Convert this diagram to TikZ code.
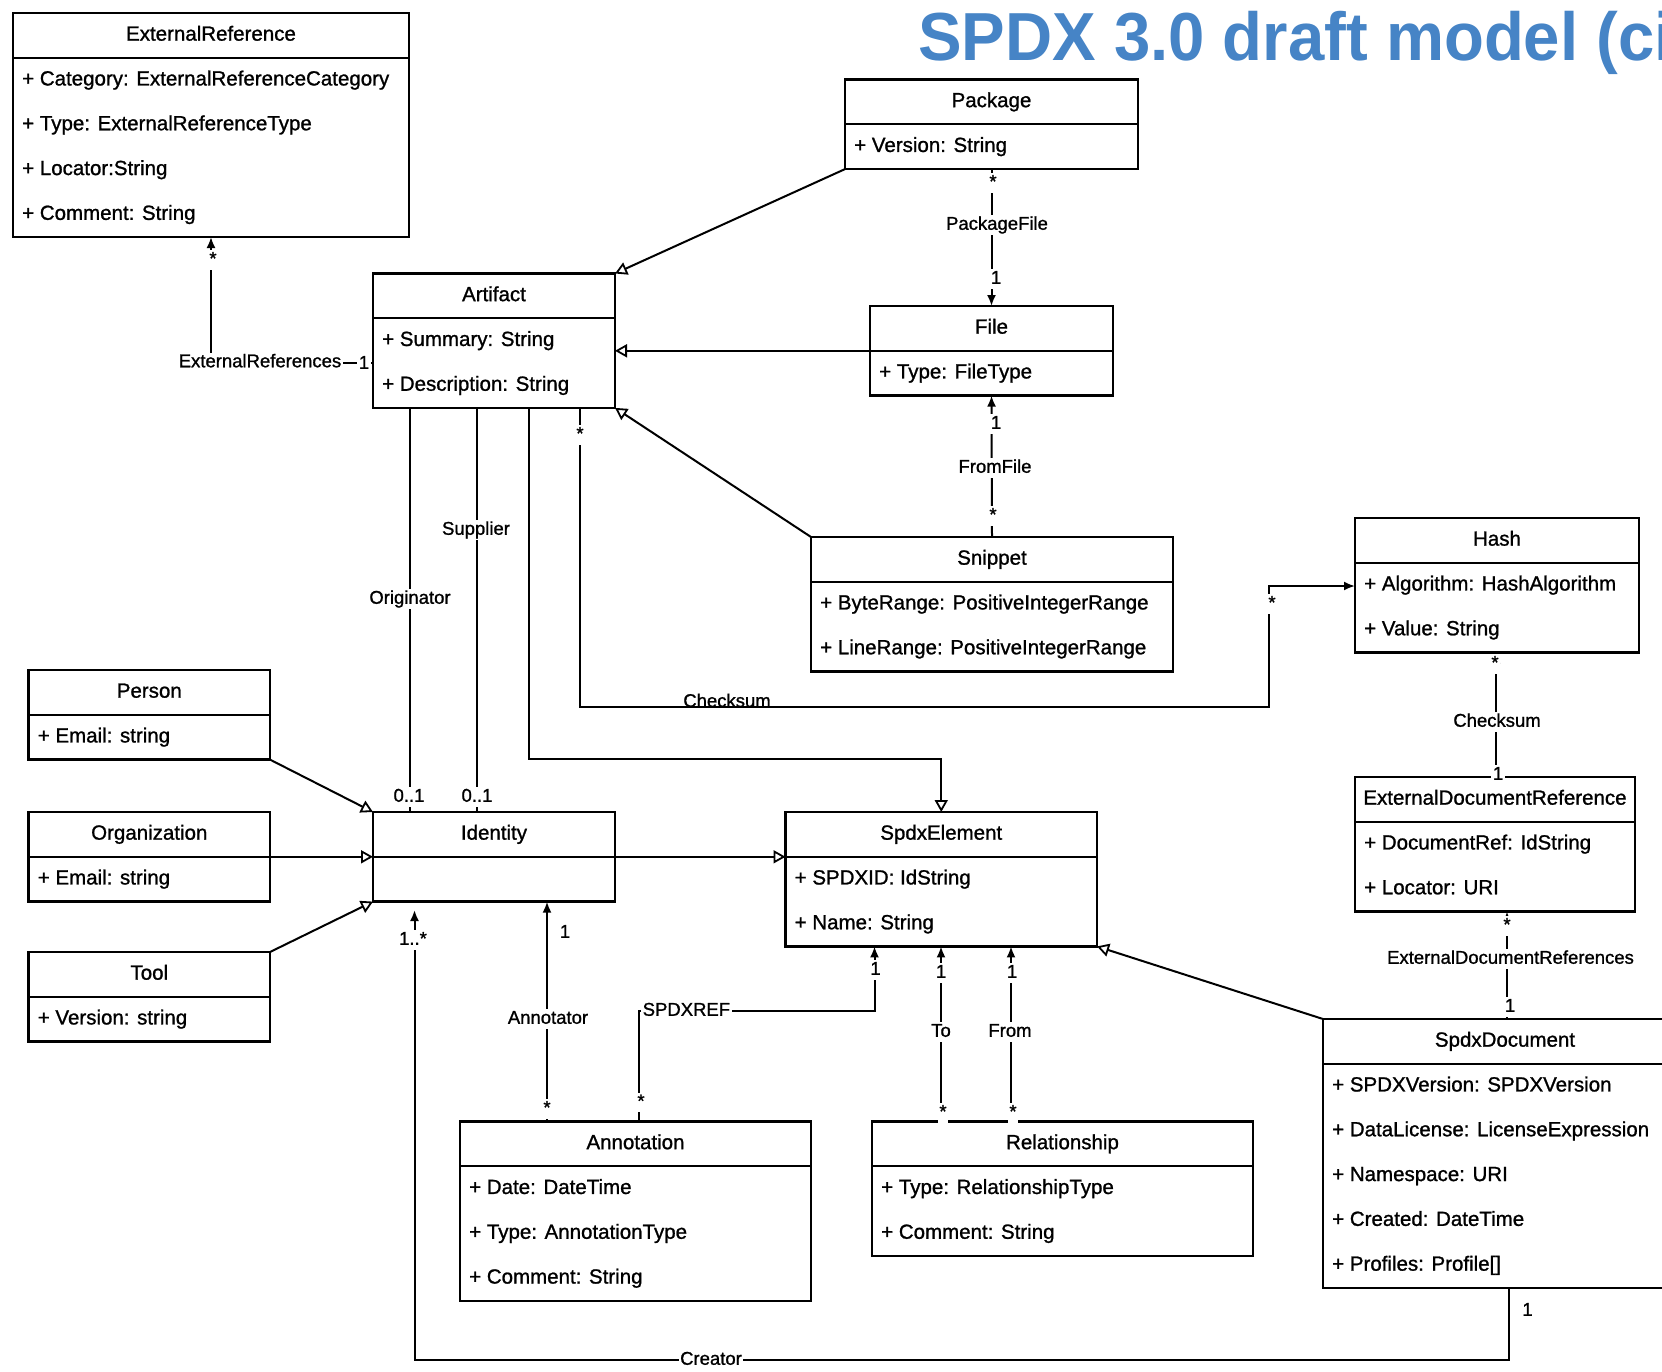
\documentclass[tikz,border=0pt]{standalone}
\usepackage{fontspec}
\setmainfont{Liberation Sans}
\newfontfamily\diagfont[FakeBold=1.1]{Liberation Sans}
\newfontfamily\headfont[FakeStretch=0.96]{Liberation Sans}
\usetikzlibrary{arrows.meta,calc}
\definecolor{titleblue}{RGB}{70,132,198}

% height of the class header and of every attribute row
\def\rowh{44.8pt}

% UML class: #1 name, #2 left, #3 top, #4 width, #5 class name, #6 rows, #7 attributes
\newcommand{\umlclass}[7]{%
  \node[classbox, minimum width=#4pt, minimum height={(#6+1)*\rowh}, anchor=north west] (#1) at (#2,#3) {};
  \draw[classline] ([yshift=-\rowh]#1.north west) -- ([yshift=-\rowh]#1.north east);
  \node[classtext] (#1-name) at ([yshift={-0.5*\rowh}]#1.north) {#5};
  \foreach \attr [count=\k] in {#7} {
    \node[classtext, anchor=west] (#1-attr\k) at ([xshift=9pt, yshift={-(\k+0.5)*\rowh}]#1.north west) {\attr};
  }%
}

\begin{document}
\begin{tikzpicture}[x=1pt, y=-1pt,
  classbox/.style={draw=black, line width=2.3pt, fill=white, inner sep=0pt, outer sep=0pt},
  classline/.style={line width=2.3pt},
  classtext/.style={font=\diagfont\fontsize{20.5}{24}\selectfont, inner sep=0pt, text height=14.5pt, text depth=4pt},
  conn/.style={line width=2pt, line join=miter},
  inherit/.style={conn, -{Triangle[open, length=12pt, width=13pt, line width=1.8pt]}},
  assoc/.style={conn, -{Latex[length=11pt, width=9pt]}},
  lbl/.style={font=\diagfont\fontsize{18.5}{22}\selectfont, fill=white, inner sep=1.5pt, text height=13pt, text depth=3.5pt},
  mult/.style={lbl},
]
\useasboundingbox (0,0) rectangle (1662,1371);
\clip (0,0) rectangle (1662,1371);

% heading
\node[anchor=base west, text=titleblue, inner sep=0pt,
      font=\headfont\bfseries\fontsize{68}{80}\selectfont] (title) at (918,60) {SPDX 3.0 draft model (ci};

% classes
\umlclass{extref}{13}{13}{396}{ExternalReference}{4}{%
  + Category: ExternalReferenceCategory, + Type: ExternalReferenceType, + Locator:String, + Comment: String}
\umlclass{package}{845}{79.5}{293}{Package}{1}{+ Version: String}
\umlclass{artifact}{373}{273.5}{242}{Artifact}{2}{+ Summary: String, + Description: String}
\umlclass{file}{870}{306}{243}{File}{1}{+ Type: FileType}
\umlclass{snippet}{811}{537}{362}{Snippet}{2}{+ ByteRange: PositiveIntegerRange, + LineRange: PositiveIntegerRange}
\umlclass{hash}{1355}{518}{284}{Hash}{2}{+ Algorithm: HashAlgorithm, + Value: String}
\umlclass{extdocref}{1355}{777}{280}{ExternalDocumentReference}{2}{+ DocumentRef: IdString, + Locator: URI}
\umlclass{person}{28.6}{670}{241.4}{Person}{1}{+ Email: string}
\umlclass{organization}{28.6}{812}{241.4}{Organization}{1}{+ Email: string}
\umlclass{tool}{28.6}{952}{241.4}{Tool}{1}{+ Version: string}
\umlclass{spdxelement}{785.5}{812}{311.5}{SpdxElement}{2}{+ SPDXID: IdString, + Name: String}
\umlclass{annotation}{460}{1121.5}{351}{Annotation}{3}{+ Date: DateTime, + Type: AnnotationType, + Comment: String}
\umlclass{relationship}{872}{1121.5}{381}{Relationship}{2}{+ Type: RelationshipType, + Comment: String}
\umlclass{spdxdocument}{1323}{1019}{364}{SpdxDocument}{5}{%
  + SPDXVersion: SPDXVersion, + DataLicense: LicenseExpression, + Namespace: URI, + Created: DateTime, + Profiles: Profile[]}
% Identity has an empty attribute compartment
\node[classbox, minimum width=242pt, minimum height={2*\rowh}, anchor=north west] (identity) at (373,812) {};
\draw[classline] ([yshift=-\rowh]identity.north west) -- ([yshift=-\rowh]identity.north east);
\node[classtext] (identity-name) at ([yshift={-0.5*\rowh}]identity.north) {Identity};

% routing points
\coordinate (erTurn) at (211,362.5);
\coordinate (xOrig) at (410,0);
\coordinate (xSupp) at (477,0);
\coordinate (elemTurn) at (529,759);
\coordinate (ckA) at (580,707);
\coordinate (ckB) at (1269,586);
\coordinate (xCk) at (1496,0);
\coordinate (xEdr) at (1507,0);
\coordinate (crA) at (1509,1360);
\coordinate (crB) at (414.5,1360);
\coordinate (crC) at (414.5,910);
\coordinate (xAnn) at (547,0);
\coordinate (srA) at (639,1011);
\coordinate (srB) at (874.5,1011);
\coordinate (xTo) at (941,0);
\coordinate (xFrom) at (1011,0);

% generalisations
\draw[inherit] (package.south west) -- (artifact.north east);
\draw[inherit] (file.west) -- (file.west -| artifact.east);
\draw[inherit] (snippet.north west) -- (artifact.south east);
\draw[inherit] (artifact.south -| elemTurn) -- (elemTurn) -| (spdxelement.north);
\draw[inherit] (person.south east) -- (identity.north west);
\draw[inherit] (organization.east) -- (identity.west);
\draw[inherit] (tool.north east) -- (identity.south west);
\draw[inherit] (identity.east) -- (identity.east -| spdxelement.west);
\draw[inherit] (spdxdocument.north west) -- (spdxelement.south east);

% associations
\draw[assoc] (artifact.west |- erTurn) -| (extref.south);
\draw[assoc] (package.south) -- (file.north);
\draw[assoc] (snippet.north) -- (file.south);
\draw[conn] (artifact.south -| xOrig) -- (identity.north -| xOrig);
\draw[conn] (artifact.south -| xSupp) -- (identity.north -| xSupp);
\draw[assoc] (artifact.south -| ckA) -- (ckA) -| (ckB) -- (hash.west |- ckB);
\draw[assoc] (extdocref.north -| xCk) -- (hash.south -| xCk);
\draw[assoc] (spdxdocument.north -| xEdr) -- (extdocref.south -| xEdr);
\draw[assoc] (spdxdocument.south -| crA) -- (crA) -- (crB) -- (crC);
\draw[assoc] (annotation.north -| xAnn) -- (identity.south -| xAnn);
\draw[assoc] (annotation.north -| srA) -- (srA) -- (srB) -- (spdxelement.south -| srB);
\draw[assoc] (relationship.north -| xTo) -- (spdxelement.south -| xTo);
\draw[assoc] (relationship.north -| xFrom) -- (spdxelement.south -| xFrom);

% role names and multiplicities
\node[lbl] (l-extrefs) at (260,362.5) {ExternalReferences};
\node[mult] (m-extrefs-one) at (364,364) {1};
\node[mult] (m-extrefs-many) at (213,260) {*};
\node[lbl] (l-pkgfile) at (997,225) {PackageFile};
\node[mult] (m-pkgfile-many) at (993,183) {*};
\node[mult] (m-pkgfile-one) at (996,279) {1};
\node[lbl] (l-fromfile) at (995,468) {FromFile};
\node[mult] (m-fromfile-one) at (996,424) {1};
\node[mult] (m-fromfile-many) at (993,516) {*};
\node[lbl] (l-orig) at (410,599) {Originator};
\node[mult] (m-orig) at (409,797) {0..1};
\node[lbl] (l-supp) at (476,530) {Supplier};
\node[mult] (m-supp) at (477,797) {0..1};
\node[mult] (m-ck-many) at (580,435) {*};
\node[lbl, fill=none, anchor=base] (l-ck) at (727,707) {Checksum};
\node[mult] (m-ck-hash) at (1272,604) {*};
\node[lbl] (l-ck2) at (1497,722) {Checksum};
\node[mult] (m-ck2-many) at (1495,664) {*};
\node[mult] (m-ck2-one) at (1498,775) {1};
\node[lbl] (l-edr) at (1510.5,959) {ExternalDocumentReferences};
\node[mult] (m-edr-many) at (1507,926) {*};
\node[mult] (m-edr-one) at (1510,1007) {1};
\node[mult] (m-cr-one) at (1527.5,1311) {1};
\node[lbl] (l-cr) at (711,1360) {Creator};
\node[mult] (m-cr-many) at (413,940) {1..*};
\node[mult] (m-ann-one) at (565,933) {1};
\node[lbl] (l-ann) at (548,1019) {Annotator};
\node[mult] (m-ann-many) at (547,1109) {*};
\node[mult] (m-sr-many) at (641,1102.5) {*};
\node[lbl, anchor=west] (l-sr) at (641,1011) {SPDXREF};
\node[mult] (m-sr-one) at (875.5,970) {1};
\node[mult] (m-to-one) at (941,973) {1};
\node[lbl] (l-to) at (941,1032) {To};
\node[mult] (m-to-many) at (943,1113) {*};
\node[mult] (m-from-one) at (1012,973) {1};
\node[lbl] (l-from) at (1010,1032) {From};
\node[mult] (m-from-many) at (1013,1113) {*};
\end{tikzpicture}
\end{document}
